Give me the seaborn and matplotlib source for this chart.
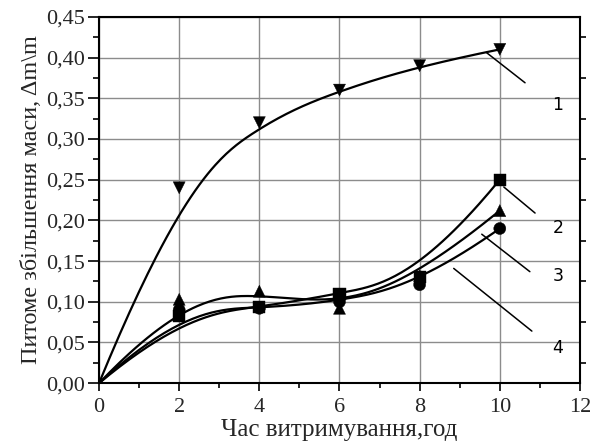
import numpy as np
import pandas as pd
import matplotlib
matplotlib.use('Agg')
import matplotlib.pyplot as plt
from matplotlib.ticker import MultipleLocator, FuncFormatter
import seaborn as sns

# дані
hours = [0, 2, 4, 6, 8, 10]
curve1 = [0.0, 0.24, 0.32, 0.36, 0.39, 0.41]
curve2 = [0.0, 0.082, 0.093, 0.11, 0.13, 0.25]
curve3 = [0.0, 0.103, 0.113, 0.092, 0.132, 0.212]
curve4 = [0.0, 0.090, 0.092, 0.100, 0.121, 0.190]
labels = ['1', '2', '3', '4']
markers = ['v', 's', '^', 'o']

sns.set_theme(style='white')
plt.rcParams['font.family'] = ['Liberation Serif', 'DejaVu Serif']


def bspline(px, py, n=200):
    # clamped cubic B-spline, як у Origin
    pts = np.column_stack([px, py]).astype(float)
    k = 3
    m = len(pts)
    knots = np.concatenate([np.zeros(k), np.arange(m - k + 1), np.full(k, m - k)]).astype(float)
    t = np.linspace(0, m - k, n)
    t[-1] -= 1e-9

    def basis(i, d, tt):
        if d == 0:
            return ((knots[i] <= tt) & (tt < knots[i + 1])).astype(float)
        a = 0.0
        b = 0.0
        if knots[i + d] != knots[i]:
            a = (tt - knots[i]) / (knots[i + d] - knots[i]) * basis(i, d - 1, tt)
        if knots[i + d + 1] != knots[i + 1]:
            b = (knots[i + d + 1] - tt) / (knots[i + d + 1] - knots[i + 1]) * basis(i + 1, d - 1, tt)
        return a + b

    B = np.array([basis(i, k, t) for i in range(m)])
    out = B.T @ pts
    return out[:, 0], out[:, 1]


fig = plt.figure(figsize=(5.93, 4.43), dpi=100)
ax = fig.add_axes([0.167, 0.135, 0.811, 0.827])

rows = []
pts = []
for lab, ys in zip(labels, [curve1, curve2, curve3, curve4]):
    sx, sy = bspline(hours, ys)
    rows.append(pd.DataFrame({'x': sx, 'y': sy, 'c': lab}))
    pts.append(pd.DataFrame({'x': hours[1:], 'y': ys[1:], 'c': lab}))
smooth = pd.concat(rows, ignore_index=True)
points = pd.concat(pts, ignore_index=True)

sns.lineplot(data=smooth, x='x', y='y', units='c', estimator=None, sort=False,
             color='black', linewidth=1.6, ax=ax, legend=False)
sns.scatterplot(data=points, x='x', y='y', style='c', markers=dict(zip(labels, markers)),
                color='black', s=75, edgecolor='black', linewidth=0.3, ax=ax,
                legend=False, zorder=5, clip_on=False)

# виноски з номерами кривих
leaders = [((9.67, 0.406), (10.63, 0.369), (11.45, 0.342)),
           ((10.10, 0.241), (10.88, 0.209), (11.45, 0.191)),
           ((9.55, 0.183), (10.75, 0.137), (11.45, 0.132)),
           ((8.85, 0.141), (10.80, 0.064), (11.45, 0.043))]
for lab, (p0, p1, pt) in zip(labels, leaders):
    ax.plot([p0[0], p1[0]], [p0[1], p1[1]], color='black', linewidth=1.1)
    ax.text(pt[0], pt[1], lab, family='DejaVu Sans', fontsize=12.5,
            ha='center', va='center', color='black')

ax.set_xlim(0, 12)
ax.set_ylim(0, 0.45)
ax.xaxis.set_major_locator(MultipleLocator(2))
ax.xaxis.set_minor_locator(MultipleLocator(1))
ax.yaxis.set_major_locator(MultipleLocator(0.05))
ax.yaxis.set_minor_locator(MultipleLocator(0.025))
ax.yaxis.set_major_formatter(FuncFormatter(lambda v, p: f'{v:.2f}'.replace('.', ',')))
ax.tick_params(which='both', direction='out', color='black', width=1.2, labelsize=16,
               bottom=True, left=True)
ax.tick_params(axis='y', which='major', length=8, pad=2)
ax.tick_params(axis='y', which='minor', length=4, right=True)
ax.tick_params(axis='x', which='major', length=6, pad=5)
ax.tick_params(axis='x', which='minor', length=3.5)
ax.grid(True, which='major', color='#8c8c8c', linewidth=1.0)
for s in ax.spines.values():
    s.set_color('black')
    s.set_linewidth(1.5)

ax.set_xlabel('Час витримування,год', fontsize=18, labelpad=1)
ax.set_ylabel('Питоме збільшення маси, Δm\\m', fontsize=17.5, labelpad=3)

fig.savefig('out.png', dpi=100)
